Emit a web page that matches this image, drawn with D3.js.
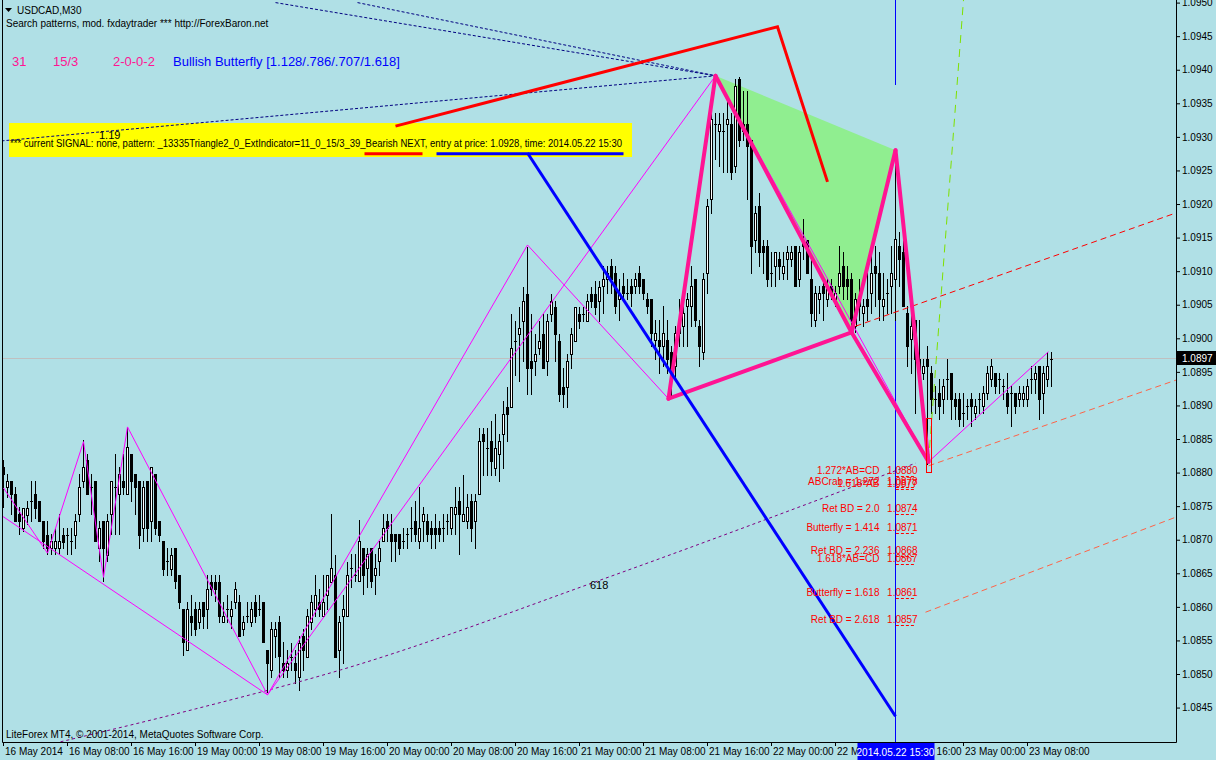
<!DOCTYPE html>
<html><head><meta charset="utf-8">
<script src="https://cdn.jsdelivr.net/npm/d3@7"></script>
<style>
body{margin:0;background:#B0E0E6;overflow:hidden;}
svg{display:block;}
text{font-family:"Liberation Sans",Arial,sans-serif;}
</style></head>
<body><svg id="chart" width="1216" height="760"></svg>
<script>
// ---------------- DATA ----------------
const timeLabels = ["16 May 2014","16 May 08:00","16 May 16:00","19 May 00:00","19 May 08:00","19 May 16:00","20 May 00:00","20 May 08:00","20 May 16:00","21 May 00:00","21 May 08:00","21 May 16:00","22 May 00:00","22 May 08:00","22 May 16:00","23 May 00:00","23 May 08:00"];
const timeTickBars = [0,16,32,48,64,80,96,112,128,144,160,176,192,208,224,240,256];
const priceTicks = [1.0845,1.0850,1.0855,1.0860,1.0865,1.0870,1.0875,1.0880,1.0885,1.0890,1.0895,1.0900,1.0905,1.0910,1.0915,1.0920,1.0925,1.0930,1.0935,1.0940,1.0945,1.0950];

const opens = [
1.08808,1.08778,1.08788,1.08768,1.08738,1.08717,1.08737,1.08758,1.08768,1.08758,
1.08728,1.08707,1.08687,1.08687,1.08687,1.08707,1.08707,1.08698,1.08707,1.08738,
1.08788,1.08818,1.08778,1.08788,1.08687,1.08728,1.08677,1.08738,1.08778,1.08768,
1.08788,1.08768,1.08828,1.08798,1.08788,1.08717,1.08788,1.08728,1.08798,1.08728,
1.08698,1.08668,1.08657,1.08687,1.08647,1.08597,1.08536,1.08587,1.08597,1.08577,
1.08607,1.08597,1.08637,1.08637,1.08637,1.08577,1.08597,1.08587,1.08607,1.08607,
1.08567,1.08587,1.08577,1.08607,1.08597,1.08607,1.08536,1.08506,1.08557,1.08577,
1.08517,1.08506,1.08526,1.08517,1.08496,1.08557,1.08526,1.08577,1.08597,1.08607,
1.08587,1.08617,1.08637,1.08647,1.08536,1.08587,1.08587,1.08658,1.08648,1.08639,
1.08688,1.08658,1.08688,1.08648,1.08668,1.08698,1.08728,1.08708,1.08708,1.08708,
1.08698,1.08708,1.08718,1.08728,1.08698,1.08728,1.08728,1.08718,1.08718,1.08718,
1.08718,1.08728,1.08718,1.08738,1.08758,1.08728,1.08728,1.08758,1.08728,1.08768,
1.08857,1.08837,1.08847,1.08807,1.08827,1.08857,1.08897,1.08897,1.08996,1.09006,
1.09026,1.09066,1.08966,1.08966,1.08986,1.09006,1.08966,1.09036,1.09046,1.08996,
1.08927,1.08927,1.08976,1.08996,1.09036,1.09036,1.09026,1.09066,1.09066,1.09056,
1.09078,1.09088,1.09108,1.09098,1.09058,1.09078,1.09068,1.09078,1.09078,1.09098,
1.09088,1.09058,1.09058,1.08998,1.08998,1.08989,1.08998,1.08979,1.08959,1.09008,
1.09018,1.09048,1.09048,1.09088,1.09018,1.08979,1.09098,1.09207,1.09319,1.09309,
1.09309,1.09319,1.09319,1.09257,1.09386,1.09319,1.09319,1.09296,1.09147,1.09197,
1.09137,1.09137,1.09098,1.09108,1.09118,1.09098,1.09118,1.09118,1.09137,1.09088,
1.09147,1.09147,1.09088,1.09028,1.09058,1.09078,1.09058,1.09078,1.09058,1.09078,
1.09108,1.09088,1.09088,1.09019,1.09058,1.09038,1.09058,1.09068,1.09108,1.09098,
1.09048,1.09068,1.09078,1.09088,1.09138,1.09128,1.09038,1.08999,1.09028,1.08969,
1.08949,1.08969,1.08949,1.08909,1.08919,1.08909,1.08939,1.08949,1.08909,1.08909,
1.08889,1.08899,1.08909,1.08889,1.08909,1.08899,1.08919,1.08939,1.08949,1.08939,
1.08929,1.08919,1.08919,1.08919,1.08909,1.08909,1.08909,1.08939,1.08939,1.08959,
1.08919,1.08939,1.08969];
const highs = [
1.08818,1.08798,1.08788,1.08778,1.08748,1.08747,1.08758,1.08788,1.08788,1.08758,
1.08728,1.08728,1.08708,1.08718,1.08738,1.08717,1.08717,1.08718,1.08738,1.08798,
1.08848,1.08828,1.08798,1.08788,1.08728,1.08728,1.08738,1.08788,1.08828,1.08808,
1.08828,1.08868,1.08828,1.08798,1.08788,1.08788,1.08788,1.08808,1.08798,1.08728,
1.08698,1.08688,1.08688,1.08687,1.08647,1.08597,1.08607,1.08617,1.08607,1.08607,
1.08607,1.08647,1.08647,1.08647,1.08647,1.08607,1.08617,1.08608,1.08637,1.08617,
1.08587,1.08607,1.08607,1.08617,1.08617,1.08607,1.08536,1.08577,1.08577,1.08587,
1.08547,1.08536,1.08546,1.08536,1.08556,1.08567,1.08597,1.08617,1.08647,1.08627,
1.08647,1.08647,1.08738,1.08677,1.08587,1.08617,1.08667,1.08679,1.08679,1.08729,
1.08688,1.08688,1.08688,1.08678,1.08698,1.08738,1.08738,1.08738,1.08708,1.08708,
1.08718,1.08718,1.08748,1.08758,1.08778,1.08748,1.08738,1.08728,1.08738,1.08728,
1.08738,1.08738,1.08748,1.08778,1.08778,1.08797,1.08768,1.08768,1.08768,1.08867,
1.08867,1.08867,1.08877,1.08887,1.08857,1.08907,1.08927,1.09036,1.09026,1.09046,
1.09076,1.09136,1.09036,1.09006,1.09026,1.09036,1.09036,1.09066,1.09056,1.09006,
1.08956,1.08976,1.09016,1.09046,1.09046,1.09046,1.09066,1.09076,1.09085,1.09085,
1.09108,1.09108,1.09118,1.09108,1.09088,1.09098,1.09088,1.09088,1.09098,1.09108,
1.09088,1.09068,1.09058,1.09028,1.09028,1.09048,1.09028,1.08989,1.09018,1.09058,
1.09058,1.09068,1.09108,1.09088,1.09028,1.09098,1.09207,1.09346,1.09336,1.09336,
1.09336,1.09356,1.09336,1.09386,1.09389,1.09368,1.09368,1.09296,1.09197,1.09217,
1.09147,1.09147,1.09128,1.09128,1.09128,1.09128,1.09137,1.09137,1.09137,1.09137,
1.09177,1.09147,1.09118,1.09078,1.09078,1.09088,1.09088,1.09088,1.09078,1.09137,
1.09128,1.09108,1.09098,1.09068,1.09088,1.09058,1.09098,1.09128,1.09138,1.09128,
1.09098,1.09088,1.09138,1.09277,1.09158,1.09177,1.09048,1.09038,1.09028,1.09028,
1.08969,1.08989,1.08959,1.08929,1.08939,1.08939,1.08969,1.08949,1.08919,1.08919,
1.08919,1.08909,1.08919,1.08909,1.08919,1.08929,1.08959,1.08969,1.08949,1.08949,
1.08939,1.08949,1.08929,1.08919,1.08929,1.08929,1.08939,1.08959,1.08959,1.08959,
1.08959,1.08979,1.08979];
const lows = [
1.08748,1.08763,1.08738,1.08728,1.08708,1.08713,1.08723,1.08728,1.08733,1.08728,
1.08688,1.08678,1.08678,1.08678,1.08678,1.08688,1.08678,1.08678,1.08688,1.08728,
1.08778,1.08768,1.08738,1.08698,1.08668,1.08638,1.08668,1.08708,1.08708,1.08708,
1.08768,1.08768,1.08758,1.08738,1.08688,1.08698,1.08698,1.08698,1.08708,1.08698,
1.08648,1.08648,1.08648,1.08628,1.08598,1.08528,1.08536,1.08558,1.08558,1.08568,
1.08568,1.08568,1.08618,1.08608,1.08578,1.08577,1.08578,1.08568,1.08598,1.08557,
1.08558,1.08578,1.08572,1.08578,1.08588,1.08547,1.08473,1.08496,1.08526,1.08496,
1.08496,1.08496,1.08506,1.08486,1.08476,1.08506,1.08526,1.08567,1.08587,1.08587,
1.08587,1.08597,1.08637,1.08526,1.08496,1.08517,1.08587,1.08630,1.08639,1.08639,
1.08619,1.08629,1.08629,1.08619,1.08648,1.08698,1.08698,1.08668,1.08668,1.08678,
1.08688,1.08688,1.08698,1.08698,1.08688,1.08698,1.08698,1.08688,1.08688,1.08698,
1.08698,1.08708,1.08708,1.08708,1.08678,1.08728,1.08718,1.08698,1.08688,1.08768,
1.08797,1.08797,1.08797,1.08797,1.08788,1.08807,1.08847,1.08897,1.08946,1.08936,
1.08966,1.08917,1.08917,1.08946,1.08976,1.08956,1.08946,1.09026,1.08966,1.08907,
1.08897,1.08897,1.08956,1.08996,1.09016,1.09026,1.09026,1.09046,1.09036,1.09026,
1.09038,1.09068,1.09068,1.09038,1.09028,1.09058,1.09058,1.09048,1.09068,1.09068,
1.09058,1.09038,1.08989,1.08969,1.08949,1.08959,1.08949,1.08912,1.08939,1.08989,
1.08989,1.08989,1.09018,1.09018,1.08959,1.08969,1.09068,1.09187,1.09267,1.09257,
1.09247,1.09247,1.09237,1.09247,1.09286,1.09296,1.09207,1.09098,1.09128,1.09108,
1.09098,1.09078,1.09078,1.09078,1.09088,1.09088,1.09088,1.09108,1.09078,1.09078,
1.09118,1.09098,1.09018,1.09018,1.09038,1.09028,1.09048,1.09058,1.09048,1.09068,
1.09058,1.09058,1.09019,1.09009,1.09028,1.09019,1.09028,1.09038,1.09048,1.09028,
1.09028,1.09038,1.09038,1.09028,1.09078,1.09048,1.08959,1.08949,1.08889,1.08939,
1.08939,1.08813,1.08889,1.08889,1.08880,1.08889,1.08909,1.08880,1.08880,1.08870,
1.08870,1.08880,1.08870,1.08880,1.08889,1.08889,1.08909,1.08929,1.08919,1.08919,
1.08909,1.08889,1.08870,1.08889,1.08899,1.08899,1.08899,1.08919,1.08919,1.08880,
1.08889,1.08929,1.08929];
const closes = [
1.08798,1.08788,1.08768,1.08728,1.08728,1.08747,1.08747,1.08758,1.08747,1.08728,
1.08698,1.08687,1.08698,1.08698,1.08698,1.08697,1.08707,1.08698,1.08728,1.08778,
1.08809,1.08768,1.08778,1.08698,1.08717,1.08687,1.08728,1.08788,1.08778,1.08798,
1.08778,1.08838,1.08788,1.08778,1.08707,1.08778,1.08717,1.08808,1.08717,1.08707,
1.08657,1.08668,1.08677,1.08638,1.08607,1.08547,1.08597,1.08577,1.08567,1.08597,
1.08587,1.08627,1.08627,1.08627,1.08587,1.08587,1.08597,1.08597,1.08627,1.08557,
1.08577,1.08587,1.08597,1.08587,1.08597,1.08547,1.08516,1.08567,1.08567,1.08527,
1.08506,1.08517,1.08526,1.08506,1.08546,1.08536,1.08587,1.08607,1.08617,1.08597,
1.08607,1.08647,1.08658,1.08526,1.08577,1.08597,1.08647,1.08658,1.08648,1.08698,
1.08648,1.08678,1.08639,1.08658,1.08688,1.08718,1.08718,1.08698,1.08698,1.08688,
1.08698,1.08708,1.08718,1.08708,1.08718,1.08738,1.08708,1.08708,1.08708,1.08708,
1.08718,1.08728,1.08748,1.08748,1.08738,1.08738,1.08748,1.08718,1.08758,1.08847,
1.08847,1.08837,1.08817,1.08837,1.08847,1.08887,1.08887,1.08986,1.08996,1.09016,
1.09056,1.08956,1.08956,1.08976,1.08996,1.08956,1.09026,1.09056,1.09006,1.08917,
1.08917,1.08966,1.09006,1.09046,1.09026,1.09036,1.09056,1.09056,1.09046,1.09076,
1.09088,1.09098,1.09088,1.09048,1.09068,1.09068,1.09068,1.09068,1.09088,1.09078,
1.09068,1.09048,1.09008,1.09008,1.08989,1.09008,1.08969,1.08949,1.09008,1.09028,
1.09038,1.09058,1.09078,1.09028,1.08989,1.09088,1.09197,1.09326,1.09319,1.09319,
1.09309,1.09326,1.09247,1.09376,1.09296,1.09309,1.09286,1.09137,1.09187,1.09128,
1.09128,1.09088,1.09098,1.09128,1.09108,1.09108,1.09128,1.09128,1.09078,1.09128,
1.09137,1.09098,1.09038,1.09068,1.09068,1.09068,1.09078,1.09068,1.09068,1.09098,
1.09078,1.09078,1.09028,1.09058,1.09048,1.09048,1.09048,1.09098,1.09098,1.09058,
1.09058,1.09068,1.09098,1.09148,1.09118,1.09048,1.08989,1.09019,1.08969,1.08949,
1.08959,1.08959,1.08909,1.08909,1.08899,1.08929,1.08939,1.08909,1.08899,1.08880,
1.08889,1.08899,1.08899,1.08899,1.08909,1.08919,1.08949,1.08959,1.08929,1.08939,
1.08929,1.08899,1.08919,1.08899,1.08919,1.08919,1.08929,1.08939,1.08949,1.08909,
1.08949,1.08959,1.08969];

// chart objects, as [bar index, price]
const zigzagPoints = [[0,1.08777],[11,1.08680],[20,1.08846],[25,1.08644],[31,1.08868],[66,1.08469],[131,1.09139],[166.25,1.08910],[178,1.09391],[231.25,1.08816],[261.25,1.08980]];
const zigzagLine2 = [[-0.75,1.08737],[66,1.08469],[178,1.09391]];
const patternX = [166.25,1.08910], patternA = [178,1.09391], patternB = [212,1.09009], patternC = [223,1.09280], patternD = [231.25,1.08816];
const redTrend = [[98,1.09316],[193.5,1.09464],[206,1.09233]];
const blueTrend = [[131,1.09276],[223,1.08437]];
const redUnder = [[90.25,1.09275],[104.75,1.09275]];
const blueUnder = [[108.25,1.09275],[155,1.09275]];
const redRay = [[213,1.09018],[293.25,1.09187]];
const orangeRay1 = [[231.25,1.08810],[293.25,1.08938]];
const orangeRay2 = [[230.5,1.08592],[293.25,1.08734]];
const greenRay = [[231.25,1.08816],[240,1.09504]];
const fibArc618 = [[14.25,1.08399],[48,1.08448],[84.25,1.08506],[149.25,1.08640],[228,1.08814]];
const navyLine119 = [[-0.5,1.09294],[178,1.09391]];
const navyLineTop1 = [[68,1.09500],[178,1.09391]];
const navyLineTop2 = [[88.5,1.09500],[178,1.09391]];
const entryBar = 223;
const bidPrice = 1.0897;
const dBox = [231,1.08881,1.08800];

const levelNames = ["1.272*AB=CD","ABCrab = 1.272","1.618*AB","Ret BD = 2.0","Butterfly = 1.414","Ret BD = 2.236","1.618*AB=CD","Butterfly = 1.618","Ret BD = 2.618"];
const levelPrices = [1.08795,1.08779,1.08776,1.08738,1.08710,1.08676,1.08664,1.08613,1.08573];
const levelTexts = ["1.0880","1.0878","1.0877","1.0874","1.0871","1.0868","1.0867","1.0861","1.0857"];

// ---------------- DRAW ----------------
const W = 1216, H = 760;
const L = 2, R = 1176, B = 742;
const svg = d3.select("#chart");
const x = d3.scaleLinear().domain([0, 262]).range([3.5, 1051.5]);
const y = d3.scaleLinear().domain([1.0850, 1.0950]).range([674.0, 2.6]);
const line = d3.line().x(d => x(d[0])).y(d => y(d[1]));

svg.append("rect").attr("width", W).attr("height", H).attr("fill", "#B0E0E6");
svg.append("defs").append("clipPath").attr("id", "plot")
  .append("rect").attr("x", L + 1).attr("y", 0).attr("width", R - L - 1).attr("height", B);

// signal box (under objects)
svg.append("rect").attr("x", 9).attr("y", 123).attr("width", 623).attr("height", 34).attr("fill", "#FFFF00");
svg.append("text").attr("x", 10).attr("y", 147).attr("font-size", 10).attr("fill", "#000")
  .attr("textLength", 612).attr("lengthAdjust", "spacingAndGlyphs")
  .text("*** current SIGNAL: none, pattern: _13335Triangle2_0_ExtIndicator=11_0_15/3_39_Bearish NEXT, entry at price: 1.0928, time: 2014.05.22 15:30");

const g = svg.append("g").attr("clip-path", "url(#plot)");

// bid line
g.append("line").attr("x1", L).attr("x2", R).attr("y1", Math.round(y(bidPrice)) + 0.5).attr("y2", Math.round(y(bidPrice)) + 0.5)
  .attr("stroke", "#C0C0C0").attr("stroke-width", 1);

// green triangle ABC
g.append("path").attr("d", line([patternA, patternC, patternB]) + "Z").attr("fill", "#90EE90");

// entry time vertical line
const ex = x(entryBar);
g.append("line").attr("x1", ex).attr("x2", ex).attr("y1", 0).attr("y2", 85).attr("stroke", "#0000FF");
g.append("line").attr("x1", ex).attr("x2", ex).attr("y1", 150).attr("y2", B).attr("stroke", "#0000FF");

// candles
const cg = g.append("g").attr("shape-rendering", "crispEdges");
opens.forEach((o, i) => {
  const h = highs[i], l = lows[i], c = closes[i];
  const cx = x(i);
  const yh = Math.round(y(h)), yl = Math.round(y(l));
  cg.append("rect").attr("x", cx - 0.5).attr("y", yh).attr("width", 1).attr("height", Math.max(1, yl - yh + 1)).attr("fill", "#000");
  const top = Math.round(y(Math.max(o, c))), bot = Math.round(y(Math.min(o, c)));
  if (bot - top < 1) {
    cg.append("rect").attr("x", cx - 1.5).attr("y", top).attr("width", 3).attr("height", 1).attr("fill", "#000");
  } else if (c > o) {
    cg.append("rect").attr("x", cx - 1).attr("y", top + 0.5).attr("width", 2).attr("height", bot - top)
      .attr("fill", "#FFFFFF").attr("stroke", "#000").attr("stroke-width", 1);
  } else {
    cg.append("rect").attr("x", cx - 1.5).attr("y", top).attr("width", 3).attr("height", bot - top + 1).attr("fill", "#000");
  }
});

// fib arc and navy lines
g.append("path").attr("d", d3.line().x(d => x(d[0])).y(d => y(d[1])).curve(d3.curveMonotoneX)(fibArc618))
  .attr("fill", "none").attr("stroke", "#800080").attr("stroke-width", 1).attr("stroke-dasharray", "3,3");
[navyLine119, navyLineTop1, navyLineTop2].forEach(d => {
  g.append("path").attr("d", line(d)).attr("fill", "none").attr("stroke", "#000080").attr("stroke-width", 1).attr("stroke-dasharray", "3,2");
});

// rays
g.append("path").attr("d", line(redRay)).attr("fill", "none").attr("stroke", "#FF0000").attr("stroke-dasharray", "6,4");
[orangeRay1, orangeRay2].forEach(d => g.append("path").attr("d", line(d)).attr("fill", "none").attr("stroke", "#FF6347").attr("stroke-dasharray", "6,4"));
g.append("path").attr("d", line(greenRay)).attr("fill", "none").attr("stroke", "#7FE000").attr("stroke-dasharray", "8,6");

// zigzag
g.append("path").attr("d", line(zigzagPoints)).attr("fill", "none").attr("stroke", "#FF00FF").attr("stroke-width", 1);
g.append("path").attr("d", line(zigzagLine2)).attr("fill", "none").attr("stroke", "#FF00FF").attr("stroke-width", 1);

// butterfly pattern
const pink = "#FF1493";
[[patternX, patternA], [patternA, patternB], [patternB, patternC], [patternC, patternD], [patternX, patternB], [patternB, patternD]]
  .forEach(s => g.append("path").attr("d", line(s)).attr("fill", "none").attr("stroke", pink).attr("stroke-width", 4).attr("stroke-linecap", "round"));

// D box
g.append("rect").attr("x", Math.round(x(dBox[0])) - 0.5).attr("y", Math.round(y(dBox[1])) + 0.5)
  .attr("width", 5).attr("height", Math.round(y(dBox[2]) - y(dBox[1])))
  .attr("fill", "none").attr("stroke", "#FF0000");

// thick trend lines
g.append("path").attr("d", line(redTrend)).attr("fill", "none").attr("stroke", "#FF0000").attr("stroke-width", 3);
g.append("path").attr("d", line(blueTrend)).attr("fill", "none").attr("stroke", "#0000FF").attr("stroke-width", 3);
g.append("path").attr("d", line(redUnder)).attr("fill", "none").attr("stroke", "#FF0000").attr("stroke-width", 3);
g.append("path").attr("d", line(blueUnder)).attr("fill", "none").attr("stroke", "#0000FF").attr("stroke-width", 3);

// level labels
const labelX = x(219), priceX = x(220.9);
levelNames.forEach((n, i) => {
  const yy = y(levelPrices[i]);
  g.append("text").attr("x", labelX).attr("y", yy - 2).attr("text-anchor", "end").attr("font-size", 10).attr("fill", "#FF0000").text(n);
  g.append("text").attr("x", priceX).attr("y", yy - 2).attr("font-size", 10).attr("fill", "#FF0000").text(levelTexts[i]);
  g.append("line").attr("x1", x(223.1)).attr("x2", x(227.8)).attr("y1", Math.round(yy) + 0.5).attr("y2", Math.round(yy) + 0.5)
    .attr("stroke", "#FF0000").attr("stroke-dasharray", "3,2");
});

// object labels
g.append("text").attr("x", 99).attr("y", 139).attr("font-size", 11).attr("fill", "#000").text("1.19");
g.append("text").attr("x", 590).attr("y", 589).attr("font-size", 11).attr("fill", "#000").text("618");

// header texts
svg.append("path").attr("d", "M5,8 L12,8 L8.5,12 Z").attr("fill", "#000");
svg.append("text").attr("x", 17).attr("y", 14).attr("font-size", 10).attr("fill", "#000").text("USDCAD,M30");
svg.append("text").attr("x", 6).attr("y", 27).attr("font-size", 10).attr("fill", "#000").text("Search patterns, mod. fxdaytrader *** http://ForexBaron.net");
const hdr = [["31", 12, pink], ["15/3", 53, pink], ["2-0-0-2", 113, pink], ["Bullish Butterfly [1.128/.786/.707/1.618]", 173, "#0000FF"]];
hdr.forEach(h => svg.append("text").attr("x", h[1]).attr("y", 66).attr("font-size", 13).attr("fill", h[2]).text(h[0]));
svg.append("text").attr("x", 6).attr("y", 738).attr("font-size", 10).attr("fill", "#000").text("LiteForex MT4, © 2001-2014, MetaQuotes Software Corp.");

// axes
const xAxis = d3.axisBottom(x).tickValues(timeTickBars).tickFormat((d, i) => timeLabels[i]).tickSize(4).tickSizeOuter(0);
const xa = svg.append("g").attr("transform", `translate(0,${B})`).call(xAxis);
xa.select(".domain").remove();
xa.selectAll(".tick line").attr("stroke", "#000").attr("transform", "translate(-0.5,0)");
xa.selectAll(".tick text").attr("text-anchor", "start").attr("x", 1).attr("y", 6).attr("dy", "0.71em")
  .attr("font-size", 10).attr("font-family", "Liberation Sans, Arial, sans-serif").attr("fill", "#000");

const yAxis = d3.axisRight(y).tickValues(priceTicks).tickFormat(d3.format(".4f")).tickSize(4).tickSizeOuter(0);
const ya = svg.append("g").attr("transform", `translate(${R},0)`).call(yAxis);
ya.select(".domain").remove();
ya.selectAll(".tick text").attr("x", 6).attr("font-size", 10).attr("font-family", "Liberation Sans, Arial, sans-serif").attr("fill", "#000");

// frame
svg.append("path").attr("d", `M${L + 0.5},0 V${B + 0.5} H${R + 0.5} V0`).attr("fill", "none").attr("stroke", "#000").attr("stroke-width", 1);

// bid price label
const by = y(bidPrice);
svg.append("rect").attr("x", R + 1).attr("y", Math.round(by) - 7).attr("width", 40).attr("height", 14).attr("fill", "#000");
svg.append("text").attr("x", R + 6).attr("y", Math.round(by) + 4).attr("font-size", 10).attr("fill", "#FFF").text(bidPrice.toFixed(4));

// entry time label on time axis
svg.append("rect").attr("x", ex - 38).attr("y", B + 1).attr("width", 77).attr("height", 17).attr("fill", "#0000FF");
svg.append("text").attr("x", ex).attr("y", B + 14).attr("text-anchor", "middle").attr("font-size", 10).attr("fill", "#FFF").text("2014.05.22 15:30");
</script>
</body></html>
